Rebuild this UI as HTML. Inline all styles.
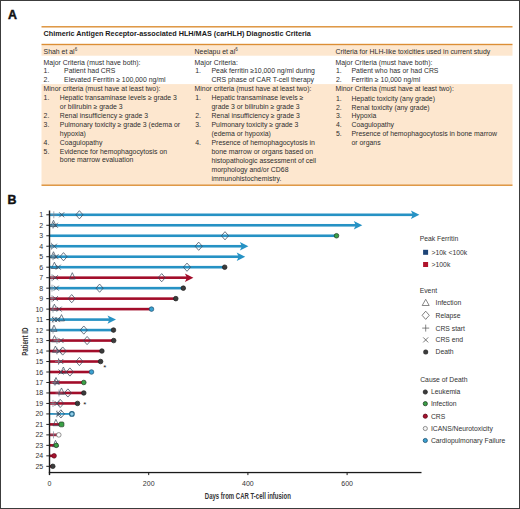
<!DOCTYPE html>
<html><head><meta charset="utf-8"><title>carHLH</title>
<style>
html,body{margin:0;padding:0;background:#fff;}
#wrap{position:relative;width:520px;height:509px;overflow:hidden;background:#fff;}
#frame{position:absolute;left:0;top:0;width:520px;height:509px;box-sizing:border-box;border:1px solid #3c3c3c;}
svg{position:absolute;left:0;top:0;}
text{font-family:"Liberation Sans", sans-serif;}

</style></head>
<body><div id="wrap">
<svg width="520" height="509" viewBox="0 0 520 509">
<rect x="41.5" y="45.2" width="471" height="10.5" fill="#fde7cf"/>
<rect x="41.5" y="84.1" width="471" height="100.7" fill="#fde7cf"/>
<rect x="41.5" y="26.1" width="471" height="1.4" fill="#dc8e34"/>
<rect x="41.5" y="43.8" width="471" height="1.4" fill="#dc8e34"/>
<rect x="41.5" y="184.5" width="471" height="1.4" fill="#dc8e34"/>
<g class="tb">
<text x="43.6" y="36.21" font-size="7.25" font-weight="bold" fill="#1a1a1a" text-anchor="start">Chimeric Antigen Receptor-associated HLH/MAS (carHLH) Diagnostic Criteria</text>
<text x="43.6" y="53.88" font-size="6.9" font-weight="normal" fill="#2e2e2e" text-anchor="start">Shah et al<tspan font-size="4.5" dy="-2.6">6</tspan></text>
<text x="194.6" y="53.88" font-size="6.9" font-weight="normal" fill="#2e2e2e" text-anchor="start">Neelapu et al<tspan font-size="4.5" dy="-2.6">6</tspan></text>
<text x="335.5" y="53.88" font-size="6.9" font-weight="normal" fill="#2e2e2e" text-anchor="start">Criteria for HLH-like toxicities used in current study</text>
<text x="43.6" y="64.68" font-size="6.9" font-weight="normal" fill="#2e2e2e" text-anchor="start">Major Criteria (must have both):</text>
<text x="43.6" y="73.18" font-size="6.9" font-weight="normal" fill="#2e2e2e" text-anchor="start">1.</text>
<text x="64.1" y="73.18" font-size="6.9" font-weight="normal" fill="#2e2e2e" text-anchor="start">Patient had CRS</text>
<text x="43.6" y="82.08" font-size="6.9" font-weight="normal" fill="#2e2e2e" text-anchor="start">2.</text>
<text x="64.1" y="82.08" font-size="6.9" font-weight="normal" fill="#2e2e2e" text-anchor="start">Elevated Ferritin ≥ 100,000 ng/ml</text>
<text x="43.6" y="91.48" font-size="6.9" font-weight="normal" fill="#2e2e2e" text-anchor="start">Minor criteria (must have at least two):</text>
<text x="43.6" y="100.48" font-size="6.9" font-weight="normal" fill="#2e2e2e" text-anchor="start">1.</text>
<text x="59.8" y="100.48" font-size="6.9" font-weight="normal" fill="#2e2e2e" text-anchor="start">Hepatic transaminase levels ≥ grade 3</text>
<text x="59.8" y="109.33" font-size="6.9" font-weight="normal" fill="#2e2e2e" text-anchor="start">or bilirubin ≥ grade 3</text>
<text x="43.6" y="118.18" font-size="6.9" font-weight="normal" fill="#2e2e2e" text-anchor="start">2.</text>
<text x="59.8" y="118.18" font-size="6.9" font-weight="normal" fill="#2e2e2e" text-anchor="start">Renal insufficiency ≥ grade 3</text>
<text x="43.6" y="127.03" font-size="6.9" font-weight="normal" fill="#2e2e2e" text-anchor="start">3.</text>
<text x="59.8" y="127.03" font-size="6.9" font-weight="normal" fill="#2e2e2e" text-anchor="start">Pulmonary toxicity ≥ grade 3 (edema or</text>
<text x="59.8" y="135.88" font-size="6.9" font-weight="normal" fill="#2e2e2e" text-anchor="start">hypoxia)</text>
<text x="43.6" y="144.73" font-size="6.9" font-weight="normal" fill="#2e2e2e" text-anchor="start">4.</text>
<text x="59.8" y="144.73" font-size="6.9" font-weight="normal" fill="#2e2e2e" text-anchor="start">Coagulopathy</text>
<text x="43.6" y="153.58" font-size="6.9" font-weight="normal" fill="#2e2e2e" text-anchor="start">5.</text>
<text x="59.8" y="153.58" font-size="6.9" font-weight="normal" fill="#2e2e2e" text-anchor="start">Evidence for hemophagocytosis on</text>
<text x="59.8" y="162.43" font-size="6.9" font-weight="normal" fill="#2e2e2e" text-anchor="start">bone marrow evaluation</text>
<text x="194.6" y="64.68" font-size="6.9" font-weight="normal" fill="#2e2e2e" text-anchor="start">Major Criteria:</text>
<text x="195.2" y="73.18" font-size="6.9" font-weight="normal" fill="#2e2e2e" text-anchor="start">1.</text>
<text x="211.5" y="73.18" font-size="6.9" font-weight="normal" fill="#2e2e2e" text-anchor="start">Peak ferritin ≥10,000 ng/ml during</text>
<text x="211.5" y="82.08" font-size="6.9" font-weight="normal" fill="#2e2e2e" text-anchor="start">CRS phase of CAR T-cell therapy</text>
<text x="194.6" y="91.48" font-size="6.9" font-weight="normal" fill="#2e2e2e" text-anchor="start">Minor criteria (must have at least two):</text>
<text x="195.2" y="100.48" font-size="6.9" font-weight="normal" fill="#2e2e2e" text-anchor="start">1.</text>
<text x="211.5" y="100.48" font-size="6.9" font-weight="normal" fill="#2e2e2e" text-anchor="start">Hepatic transaminase levels ≥</text>
<text x="211.5" y="109.28" font-size="6.9" font-weight="normal" fill="#2e2e2e" text-anchor="start">grade 3 or bilirubin ≥ grade 3</text>
<text x="195.2" y="118.08" font-size="6.9" font-weight="normal" fill="#2e2e2e" text-anchor="start">2.</text>
<text x="211.5" y="118.08" font-size="6.9" font-weight="normal" fill="#2e2e2e" text-anchor="start">Renal insufficiency ≥ grade 3</text>
<text x="195.2" y="126.78" font-size="6.9" font-weight="normal" fill="#2e2e2e" text-anchor="start">3.</text>
<text x="211.5" y="126.78" font-size="6.9" font-weight="normal" fill="#2e2e2e" text-anchor="start">Pulmonary toxicity ≥ grade 3</text>
<text x="211.5" y="135.58" font-size="6.9" font-weight="normal" fill="#2e2e2e" text-anchor="start">(edema or hypoxia)</text>
<text x="195.2" y="144.78" font-size="6.9" font-weight="normal" fill="#2e2e2e" text-anchor="start">4.</text>
<text x="211.5" y="144.78" font-size="6.9" font-weight="normal" fill="#2e2e2e" text-anchor="start">Presence of hemophagocytosis in</text>
<text x="211.5" y="153.88" font-size="6.9" font-weight="normal" fill="#2e2e2e" text-anchor="start">bone marrow or organs based on</text>
<text x="211.5" y="162.88" font-size="6.9" font-weight="normal" fill="#2e2e2e" text-anchor="start">histopathologic assessment of cell</text>
<text x="211.5" y="171.98" font-size="6.9" font-weight="normal" fill="#2e2e2e" text-anchor="start">morphology and/or CD68</text>
<text x="211.5" y="180.98" font-size="6.9" font-weight="normal" fill="#2e2e2e" text-anchor="start">immunohistochemistry.</text>
<text x="335.5" y="64.68" font-size="6.9" font-weight="normal" fill="#2e2e2e" text-anchor="start">Major Criteria (must have both):</text>
<text x="336.0" y="73.18" font-size="6.9" font-weight="normal" fill="#2e2e2e" text-anchor="start">1.</text>
<text x="351.5" y="73.18" font-size="6.9" font-weight="normal" fill="#2e2e2e" text-anchor="start">Patient who has or had CRS</text>
<text x="336.0" y="82.08" font-size="6.9" font-weight="normal" fill="#2e2e2e" text-anchor="start">2.</text>
<text x="351.5" y="82.08" font-size="6.9" font-weight="normal" fill="#2e2e2e" text-anchor="start">Ferritin ≥ 10,000 ng/ml</text>
<text x="335.5" y="91.48" font-size="6.9" font-weight="normal" fill="#2e2e2e" text-anchor="start">Minor Criteria (must have at least two):</text>
<text x="336.0" y="100.68" font-size="6.9" font-weight="normal" fill="#2e2e2e" text-anchor="start">1.</text>
<text x="351.5" y="100.68" font-size="6.9" font-weight="normal" fill="#2e2e2e" text-anchor="start">Hepatic toxicity (any grade)</text>
<text x="336.0" y="109.53" font-size="6.9" font-weight="normal" fill="#2e2e2e" text-anchor="start">2.</text>
<text x="351.5" y="109.53" font-size="6.9" font-weight="normal" fill="#2e2e2e" text-anchor="start">Renal toxicity (any grade)</text>
<text x="336.0" y="118.38" font-size="6.9" font-weight="normal" fill="#2e2e2e" text-anchor="start">3.</text>
<text x="351.5" y="118.38" font-size="6.9" font-weight="normal" fill="#2e2e2e" text-anchor="start">Hypoxia</text>
<text x="336.0" y="127.23" font-size="6.9" font-weight="normal" fill="#2e2e2e" text-anchor="start">4.</text>
<text x="351.5" y="127.23" font-size="6.9" font-weight="normal" fill="#2e2e2e" text-anchor="start">Coagulopathy</text>
<text x="336.0" y="136.08" font-size="6.9" font-weight="normal" fill="#2e2e2e" text-anchor="start">5.</text>
<text x="351.5" y="136.08" font-size="6.9" font-weight="normal" fill="#2e2e2e" text-anchor="start">Presence of hemophagocytosis in bone marrow</text>
<text x="351.5" y="144.93" font-size="6.9" font-weight="normal" fill="#2e2e2e" text-anchor="start">or organs</text>
</g>
<text x="7.9" y="18.6" font-size="12.4" font-weight="bold" fill="#111" stroke="#111" stroke-width="0.45">A</text>
<text x="7.6" y="203.9" font-size="12.4" font-weight="bold" fill="#111" stroke="#111" stroke-width="0.45">B</text>
<rect x="46.3" y="214.30" width="3.4" height="1" fill="#222"/>
<text x="43.2" y="217.30" font-size="7" fill="#333" text-anchor="end">1</text>
<rect x="49.5" y="213.50" width="363.90" height="2.6" fill="#2692c4"/>
<path d="M419.40 214.80 L410.90 210.60 L412.90 214.80 L410.90 219.00Z" fill="#2692c4"/>
<path d="M53.80 211.30 V218.30 M50.30 214.80 H57.30" stroke="#7d8896" stroke-width="0.7" fill="none"/>
<path d="M59.20 212.30 L64.20 217.30 M59.20 217.30 L64.20 212.30" stroke="#3a4a5c" stroke-width="0.8" fill="none"/>
<path d="M79.40 210.70 L83.00 214.80 L79.40 218.90 L75.80 214.80Z" fill="none" stroke="#3a4a5c" stroke-width="0.75"/>
<rect x="46.3" y="224.78" width="3.4" height="1" fill="#222"/>
<text x="43.2" y="227.78" font-size="7" fill="#333" text-anchor="end">2</text>
<rect x="49.5" y="223.98" width="306.80" height="2.6" fill="#2692c4"/>
<path d="M362.30 225.28 L353.80 221.08 L355.80 225.28 L353.80 229.48Z" fill="#2692c4"/>
<path d="M53.50 220.28 L56.50 226.58 L50.50 226.58Z" fill="none" stroke="#3a4a5c" stroke-width="0.7"/>
<path d="M53.00 221.78 V228.78 M49.50 225.28 H56.50" stroke="#7d8896" stroke-width="0.7" fill="none"/>
<path d="M52.90 222.78 L57.90 227.78 M52.90 227.78 L57.90 222.78" stroke="#3a4a5c" stroke-width="0.8" fill="none"/>
<rect x="46.3" y="235.26" width="3.4" height="1" fill="#222"/>
<text x="43.2" y="238.26" font-size="7" fill="#333" text-anchor="end">3</text>
<rect x="49.5" y="234.46" width="287.00" height="2.6" fill="#2692c4"/>
<path d="M225.00 231.66 L228.60 235.76 L225.00 239.86 L221.40 235.76Z" fill="none" stroke="#3a4a5c" stroke-width="0.75"/>
<circle cx="336.50" cy="235.76" r="2.3" fill="#3aa146" stroke="#1f3a22" stroke-width="0.7"/>
<rect x="46.3" y="245.74" width="3.4" height="1" fill="#222"/>
<text x="43.2" y="248.74" font-size="7" fill="#333" text-anchor="end">4</text>
<rect x="49.5" y="244.94" width="192.90" height="2.6" fill="#2692c4"/>
<path d="M248.40 246.24 L239.90 242.04 L241.90 246.24 L239.90 250.44Z" fill="#2692c4"/>
<path d="M51.50 242.74 V249.74 M48.00 246.24 H55.00" stroke="#7d8896" stroke-width="0.7" fill="none"/>
<path d="M51.90 243.74 L56.90 248.74 M51.90 248.74 L56.90 243.74" stroke="#3a4a5c" stroke-width="0.8" fill="none"/>
<path d="M198.70 242.14 L202.30 246.24 L198.70 250.34 L195.10 246.24Z" fill="none" stroke="#3a4a5c" stroke-width="0.75"/>
<rect x="46.3" y="256.22" width="3.4" height="1" fill="#222"/>
<text x="43.2" y="259.22" font-size="7" fill="#333" text-anchor="end">5</text>
<rect x="49.5" y="255.42" width="189.70" height="2.6" fill="#2692c4"/>
<path d="M245.20 256.72 L236.70 252.52 L238.70 256.72 L236.70 260.92Z" fill="#2692c4"/>
<path d="M53.50 251.72 L56.50 258.02 L50.50 258.02Z" fill="none" stroke="#3a4a5c" stroke-width="0.7"/>
<path d="M53.00 253.22 V260.22 M49.50 256.72 H56.50" stroke="#7d8896" stroke-width="0.7" fill="none"/>
<path d="M53.50 254.22 L58.50 259.22 M53.50 259.22 L58.50 254.22" stroke="#3a4a5c" stroke-width="0.8" fill="none"/>
<path d="M63.50 252.62 L67.10 256.72 L63.50 260.82 L59.90 256.72Z" fill="none" stroke="#3a4a5c" stroke-width="0.75"/>
<rect x="46.3" y="266.70" width="3.4" height="1" fill="#222"/>
<text x="43.2" y="269.70" font-size="7" fill="#333" text-anchor="end">6</text>
<rect x="49.5" y="265.90" width="175.20" height="2.6" fill="#2692c4"/>
<path d="M54.40 262.20 L57.40 268.50 L51.40 268.50Z" fill="none" stroke="#3a4a5c" stroke-width="0.7"/>
<path d="M55.80 264.70 L60.80 269.70 M55.80 269.70 L60.80 264.70" stroke="#3a4a5c" stroke-width="0.8" fill="none"/>
<path d="M187.00 263.10 L190.60 267.20 L187.00 271.30 L183.40 267.20Z" fill="none" stroke="#3a4a5c" stroke-width="0.75"/>
<circle cx="224.70" cy="267.20" r="2.3" fill="#3b3b3b" stroke="#1e1e1e" stroke-width="0.7"/>
<rect x="46.3" y="277.18" width="3.4" height="1" fill="#222"/>
<text x="43.2" y="280.18" font-size="7" fill="#333" text-anchor="end">7</text>
<rect x="49.5" y="276.38" width="137.90" height="2.6" fill="#a20d2a"/>
<path d="M193.40 277.68 L184.90 273.48 L186.90 277.68 L184.90 281.88Z" fill="#a20d2a"/>
<path d="M52.00 274.18 V281.18 M48.50 277.68 H55.50" stroke="#7d8896" stroke-width="0.7" fill="none"/>
<path d="M52.90 275.18 L57.90 280.18 M52.90 280.18 L57.90 275.18" stroke="#3a4a5c" stroke-width="0.8" fill="none"/>
<path d="M72.30 272.68 L75.30 278.98 L69.30 278.98Z" fill="none" stroke="#3a4a5c" stroke-width="0.7"/>
<path d="M161.70 273.58 L165.30 277.68 L161.70 281.78 L158.10 277.68Z" fill="none" stroke="#3a4a5c" stroke-width="0.75"/>
<rect x="46.3" y="287.66" width="3.4" height="1" fill="#222"/>
<text x="43.2" y="290.66" font-size="7" fill="#333" text-anchor="end">8</text>
<rect x="49.5" y="286.86" width="133.80" height="2.6" fill="#2692c4"/>
<path d="M52.00 284.66 V291.66 M48.50 288.16 H55.50" stroke="#7d8896" stroke-width="0.7" fill="none"/>
<path d="M53.80 285.66 L58.80 290.66 M53.80 290.66 L58.80 285.66" stroke="#3a4a5c" stroke-width="0.8" fill="none"/>
<path d="M99.60 284.06 L103.20 288.16 L99.60 292.26 L96.00 288.16Z" fill="none" stroke="#3a4a5c" stroke-width="0.75"/>
<circle cx="183.30" cy="288.16" r="2.3" fill="#3b3b3b" stroke="#1e1e1e" stroke-width="0.7"/>
<rect x="46.3" y="298.14" width="3.4" height="1" fill="#222"/>
<text x="43.2" y="301.14" font-size="7" fill="#333" text-anchor="end">9</text>
<rect x="49.5" y="297.34" width="126.30" height="2.6" fill="#a20d2a"/>
<path d="M52.00 295.14 V302.14 M48.50 298.64 H55.50" stroke="#7d8896" stroke-width="0.7" fill="none"/>
<path d="M52.90 296.14 L57.90 301.14 M52.90 301.14 L57.90 296.14" stroke="#3a4a5c" stroke-width="0.8" fill="none"/>
<path d="M71.70 294.54 L75.30 298.64 L71.70 302.74 L68.10 298.64Z" fill="none" stroke="#3a4a5c" stroke-width="0.75"/>
<circle cx="175.80" cy="298.64" r="2.3" fill="#3b3b3b" stroke="#1e1e1e" stroke-width="0.7"/>
<rect x="46.3" y="308.62" width="3.4" height="1" fill="#222"/>
<text x="43.2" y="311.62" font-size="7" fill="#333" text-anchor="end">10</text>
<rect x="49.5" y="307.82" width="102.00" height="2.6" fill="#a20d2a"/>
<path d="M54.40 304.12 L57.40 310.42 L51.40 310.42Z" fill="none" stroke="#3a4a5c" stroke-width="0.7"/>
<path d="M53.00 305.62 V312.62 M49.50 309.12 H56.50" stroke="#7d8896" stroke-width="0.7" fill="none"/>
<path d="M56.70 306.62 L61.70 311.62 M56.70 311.62 L61.70 306.62" stroke="#3a4a5c" stroke-width="0.8" fill="none"/>
<circle cx="151.50" cy="309.12" r="2.3" fill="#3aa0d0" stroke="#1d4f6e" stroke-width="0.7"/>
<rect x="46.3" y="319.10" width="3.4" height="1" fill="#222"/>
<text x="43.2" y="322.10" font-size="7" fill="#333" text-anchor="end">11</text>
<rect x="49.5" y="318.30" width="60.50" height="2.6" fill="#2692c4"/>
<path d="M116.00 319.60 L107.50 315.40 L109.50 319.60 L107.50 323.80Z" fill="#2692c4"/>
<path d="M53.00 316.10 V323.10 M49.50 319.60 H56.50" stroke="#7d8896" stroke-width="0.7" fill="none"/>
<path d="M52.10 317.10 L57.10 322.10 M52.10 322.10 L57.10 317.10" stroke="#3a4a5c" stroke-width="0.8" fill="none"/>
<path d="M54.80 317.10 L59.80 322.10 M54.80 322.10 L59.80 317.10" stroke="#3a4a5c" stroke-width="0.8" fill="none"/>
<path d="M61.50 314.60 L64.50 320.90 L58.50 320.90Z" fill="none" stroke="#3a4a5c" stroke-width="0.7"/>
<rect x="46.3" y="329.58" width="3.4" height="1" fill="#222"/>
<text x="43.2" y="332.58" font-size="7" fill="#333" text-anchor="end">12</text>
<rect x="49.5" y="328.78" width="64.00" height="2.6" fill="#2692c4"/>
<path d="M54.00 325.08 L57.00 331.38 L51.00 331.38Z" fill="none" stroke="#3a4a5c" stroke-width="0.7"/>
<path d="M53.00 326.58 V333.58 M49.50 330.08 H56.50" stroke="#7d8896" stroke-width="0.7" fill="none"/>
<path d="M83.80 325.98 L87.40 330.08 L83.80 334.18 L80.20 330.08Z" fill="none" stroke="#3a4a5c" stroke-width="0.75"/>
<circle cx="113.50" cy="330.08" r="2.3" fill="#3b3b3b" stroke="#1e1e1e" stroke-width="0.7"/>
<rect x="46.3" y="340.06" width="3.4" height="1" fill="#222"/>
<text x="43.2" y="343.06" font-size="7" fill="#333" text-anchor="end">13</text>
<rect x="49.5" y="339.26" width="64.20" height="2.6" fill="#a20d2a"/>
<path d="M54.50 335.56 L57.50 341.86 L51.50 341.86Z" fill="none" stroke="#3a4a5c" stroke-width="0.7"/>
<path d="M57.00 337.06 V344.06 M53.50 340.56 H60.50" stroke="#7d8896" stroke-width="0.7" fill="none"/>
<path d="M58.50 338.06 L63.50 343.06 M58.50 343.06 L63.50 338.06" stroke="#3a4a5c" stroke-width="0.8" fill="none"/>
<path d="M87.10 336.46 L90.70 340.56 L87.10 344.66 L83.50 340.56Z" fill="none" stroke="#3a4a5c" stroke-width="0.75"/>
<circle cx="113.70" cy="340.56" r="2.3" fill="#3b3b3b" stroke="#1e1e1e" stroke-width="0.7"/>
<rect x="46.3" y="350.54" width="3.4" height="1" fill="#222"/>
<text x="43.2" y="353.54" font-size="7" fill="#333" text-anchor="end">14</text>
<rect x="49.5" y="349.74" width="52.40" height="2.6" fill="#a20d2a"/>
<path d="M55.40 346.04 L58.40 352.34 L52.40 352.34Z" fill="none" stroke="#3a4a5c" stroke-width="0.7"/>
<path d="M57.00 347.54 V354.54 M53.50 351.04 H60.50" stroke="#7d8896" stroke-width="0.7" fill="none"/>
<path d="M56.70 348.54 L61.70 353.54 M56.70 353.54 L61.70 348.54" stroke="#3a4a5c" stroke-width="0.8" fill="none"/>
<path d="M62.70 346.94 L66.30 351.04 L62.70 355.14 L59.10 351.04Z" fill="none" stroke="#3a4a5c" stroke-width="0.75"/>
<circle cx="101.90" cy="351.04" r="2.3" fill="#3b3b3b" stroke="#1e1e1e" stroke-width="0.7"/>
<rect x="46.3" y="361.02" width="3.4" height="1" fill="#222"/>
<text x="43.2" y="364.02" font-size="7" fill="#333" text-anchor="end">15</text>
<rect x="49.5" y="360.22" width="51.10" height="2.6" fill="#a20d2a"/>
<path d="M58.50 358.02 V365.02 M55.00 361.52 H62.00" stroke="#7d8896" stroke-width="0.7" fill="none"/>
<path d="M58.30 359.02 L63.30 364.02 M58.30 364.02 L63.30 359.02" stroke="#3a4a5c" stroke-width="0.8" fill="none"/>
<path d="M79.40 357.42 L83.00 361.52 L79.40 365.62 L75.80 361.52Z" fill="none" stroke="#3a4a5c" stroke-width="0.75"/>
<circle cx="100.60" cy="361.52" r="2.3" fill="#3b3b3b" stroke="#1e1e1e" stroke-width="0.7"/>
<rect x="46.3" y="371.50" width="3.4" height="1" fill="#222"/>
<text x="43.2" y="374.50" font-size="7" fill="#333" text-anchor="end">16</text>
<rect x="49.5" y="370.70" width="42.00" height="2.6" fill="#a20d2a"/>
<path d="M58.50 369.50 L63.50 374.50 M58.50 374.50 L63.50 369.50" stroke="#3a4a5c" stroke-width="0.8" fill="none"/>
<path d="M63.40 367.00 L66.40 373.30 L60.40 373.30Z" fill="none" stroke="#3a4a5c" stroke-width="0.7"/>
<path d="M69.90 367.90 L73.50 372.00 L69.90 376.10 L66.30 372.00Z" fill="none" stroke="#3a4a5c" stroke-width="0.75"/>
<circle cx="91.50" cy="372.00" r="2.3" fill="#3aa0d0" stroke="#1d4f6e" stroke-width="0.7"/>
<rect x="46.3" y="381.98" width="3.4" height="1" fill="#222"/>
<text x="43.2" y="384.98" font-size="7" fill="#333" text-anchor="end">17</text>
<rect x="49.5" y="381.18" width="34.30" height="2.6" fill="#a20d2a"/>
<path d="M56.00 377.48 L59.00 383.78 L53.00 383.78Z" fill="none" stroke="#3a4a5c" stroke-width="0.7"/>
<path d="M55.00 378.98 V385.98 M51.50 382.48 H58.50" stroke="#7d8896" stroke-width="0.7" fill="none"/>
<path d="M54.50 379.98 L59.50 384.98 M54.50 384.98 L59.50 379.98" stroke="#3a4a5c" stroke-width="0.8" fill="none"/>
<circle cx="83.80" cy="382.48" r="2.3" fill="#3aa146" stroke="#1f3a22" stroke-width="0.7"/>
<rect x="46.3" y="392.46" width="3.4" height="1" fill="#222"/>
<text x="43.2" y="395.46" font-size="7" fill="#333" text-anchor="end">18</text>
<rect x="49.5" y="391.66" width="34.30" height="2.6" fill="#a20d2a"/>
<path d="M59.00 389.46 V396.46 M55.50 392.96 H62.50" stroke="#7d8896" stroke-width="0.7" fill="none"/>
<path d="M61.50 387.96 L64.50 394.26 L58.50 394.26Z" fill="none" stroke="#3a4a5c" stroke-width="0.7"/>
<path d="M67.90 388.86 L71.50 392.96 L67.90 397.06 L64.30 392.96Z" fill="none" stroke="#3a4a5c" stroke-width="0.75"/>
<circle cx="83.80" cy="392.96" r="2.3" fill="#3b3b3b" stroke="#1e1e1e" stroke-width="0.7"/>
<rect x="46.3" y="402.94" width="3.4" height="1" fill="#222"/>
<text x="43.2" y="405.94" font-size="7" fill="#333" text-anchor="end">19</text>
<rect x="49.5" y="402.14" width="28.00" height="2.6" fill="#a20d2a"/>
<path d="M53.00 399.94 V406.94 M49.50 403.44 H56.50" stroke="#7d8896" stroke-width="0.7" fill="none"/>
<path d="M54.50 400.94 L59.50 405.94 M54.50 405.94 L59.50 400.94" stroke="#3a4a5c" stroke-width="0.8" fill="none"/>
<path d="M60.20 399.34 L63.80 403.44 L60.20 407.54 L56.60 403.44Z" fill="none" stroke="#3a4a5c" stroke-width="0.75"/>
<circle cx="77.50" cy="403.44" r="2.3" fill="#3b3b3b" stroke="#1e1e1e" stroke-width="0.7"/>
<rect x="46.3" y="413.42" width="3.4" height="1" fill="#222"/>
<text x="43.2" y="416.42" font-size="7" fill="#333" text-anchor="end">20</text>
<rect x="49.5" y="413.02" width="22.40" height="1.8" fill="#2692c4"/>
<path d="M57.00 410.42 V417.42 M53.50 413.92 H60.50" stroke="#7d8896" stroke-width="0.7" fill="none"/>
<path d="M56.50 411.42 L61.50 416.42 M56.50 416.42 L61.50 411.42" stroke="#3a4a5c" stroke-width="0.8" fill="none"/>
<path d="M60.90 409.82 L64.50 413.92 L60.90 418.02 L57.30 413.92Z" fill="none" stroke="#3a4a5c" stroke-width="0.75"/>
<circle cx="71.90" cy="413.92" r="2.3" fill="#8fcfea" stroke="#1d5f80" stroke-width="1.1"/>
<rect x="46.3" y="423.90" width="3.4" height="1" fill="#222"/>
<text x="43.2" y="426.90" font-size="7" fill="#333" text-anchor="end">21</text>
<rect x="49.5" y="423.10" width="12.00" height="2.6" fill="#a20d2a"/>
<path d="M55.90 419.40 L58.90 425.70 L52.90 425.70Z" fill="none" stroke="#3a4a5c" stroke-width="0.7"/>
<rect x="59.10" y="422.00" width="4.8" height="4.8" rx="1.2" fill="#3aa146" stroke="#1f3a22" stroke-width="0.7"/>
<rect x="46.3" y="434.38" width="3.4" height="1" fill="#222"/>
<text x="43.2" y="437.38" font-size="7" fill="#333" text-anchor="end">22</text>
<rect x="49.5" y="433.58" width="9.30" height="2.6" fill="#a20d2a"/>
<path d="M53.50 431.38 V438.38 M50.00 434.88 H57.00" stroke="#7d8896" stroke-width="0.7" fill="none"/>
<circle cx="58.80" cy="434.88" r="2.3" fill="#ffffff" stroke="#666666" stroke-width="0.7"/>
<rect x="46.3" y="444.86" width="3.4" height="1" fill="#222"/>
<text x="43.2" y="447.86" font-size="7" fill="#333" text-anchor="end">23</text>
<rect x="49.5" y="444.06" width="6.70" height="2.6" fill="#a20d2a"/>
<path d="M55.50 440.36 L58.50 446.66 L52.50 446.66Z" fill="none" stroke="#3a4a5c" stroke-width="0.7"/>
<circle cx="56.20" cy="445.36" r="2.3" fill="#3aa146" stroke="#1f3a22" stroke-width="0.7"/>
<rect x="46.3" y="455.34" width="3.4" height="1" fill="#222"/>
<text x="43.2" y="458.34" font-size="7" fill="#333" text-anchor="end">24</text>
<rect x="49.5" y="454.54" width="4.60" height="2.6" fill="#a20d2a"/>
<circle cx="54.10" cy="455.84" r="2.3" fill="#a8102e" stroke="#5a0a18" stroke-width="0.7"/>
<rect x="46.3" y="465.82" width="3.4" height="1" fill="#222"/>
<text x="43.2" y="468.82" font-size="7" fill="#333" text-anchor="end">25</text>
<rect x="49.5" y="465.02" width="3.30" height="2.6" fill="#a20d2a"/>
<circle cx="52.80" cy="466.32" r="2.3" fill="#3b3b3b" stroke="#1e1e1e" stroke-width="0.7"/>
<text x="104.8" y="370.3" font-size="8" fill="#222" text-anchor="middle">*</text>
<text x="84.8" y="406.6" font-size="8" fill="#222" text-anchor="middle">*</text>
<rect x="48.8" y="210.5" width="1.4" height="264.5" fill="#1a1a1a"/>
<rect x="48.8" y="471.9" width="372.7" height="1.3" fill="#1a1a1a"/>
<rect x="49.00" y="472.5" width="1" height="2.6" fill="#1a1a1a"/>
<text x="49.50" y="485.8" font-size="7" fill="#333" text-anchor="middle">0</text>
<rect x="148.20" y="472.5" width="1" height="2.6" fill="#1a1a1a"/>
<text x="148.70" y="485.8" font-size="7" fill="#333" text-anchor="middle">200</text>
<rect x="247.40" y="472.5" width="1" height="2.6" fill="#1a1a1a"/>
<text x="247.90" y="485.8" font-size="7" fill="#333" text-anchor="middle">400</text>
<rect x="346.60" y="472.5" width="1" height="2.6" fill="#1a1a1a"/>
<text x="347.10" y="485.8" font-size="7" fill="#333" text-anchor="middle">600</text>
<text transform="translate(247.8 498.8) scale(0.69 1)" font-size="8.7" font-weight="bold" fill="#333" text-anchor="middle">Days from CAR T-cell infusion</text>
<text transform="translate(28.2 341.7) rotate(-90) scale(0.71 1)" font-size="8.6" font-weight="bold" fill="#333" text-anchor="middle">Patient ID</text>
<text x="419.7" y="241.45" font-size="6.8" fill="#333">Peak Ferritin</text>
<rect x="423.1" y="249.8" width="5" height="5" fill="#1d4477"/>
<text x="431.6" y="254.85" font-size="6.8" fill="#333">&gt;10k &lt;100k</text>
<rect x="423.1" y="262.0" width="5" height="5" fill="#b0142c"/>
<text x="431.6" y="266.95" font-size="6.8" fill="#333">&gt;100k</text>
<text x="419.7" y="292.75" font-size="6.8" fill="#333">Event</text>
<path d="M425.7 299.3 L429.2 305.5 L422.2 305.5Z" fill="none" stroke="#555" stroke-width="0.7"/>
<text x="435.5" y="304.65" font-size="6.8" fill="#333">Infection</text>
<path d="M425.70 311.20 L429.30 315.30 L425.70 319.40 L422.10 315.30Z" fill="none" stroke="#555" stroke-width="0.75"/>
<text x="435.5" y="317.75" font-size="6.8" fill="#333">Relapse</text>
<path d="M425.70 324.60 V331.60 M422.20 328.10 H429.20" stroke="#555" stroke-width="0.7" fill="none"/>
<text x="435.5" y="330.55" font-size="6.8" fill="#333">CRS start</text>
<path d="M423.20 337.40 L428.20 342.40 M423.20 342.40 L428.20 337.40" stroke="#555" stroke-width="0.8" fill="none"/>
<text x="435.5" y="342.35" font-size="6.8" fill="#333">CRS end</text>
<circle cx="425.7" cy="351.9" r="2.5" fill="#3b3b3b"/>
<text x="435.5" y="354.35" font-size="6.8" fill="#333">Death</text>
<text x="420.2" y="381.65" font-size="6.8" fill="#333">Cause of Death</text>
<circle cx="425.3" cy="392.0" r="2.1" fill="#3b3b3b" stroke="#1e1e1e" stroke-width="0.8"/>
<text x="430.9" y="394.45" font-size="6.8" fill="#333">Leukemia</text>
<circle cx="425.3" cy="403.7" r="2.1" fill="#3aa146" stroke="#1f3a22" stroke-width="0.8"/>
<text x="430.9" y="406.15" font-size="6.8" fill="#333">Infection</text>
<circle cx="425.3" cy="416.2" r="2.1" fill="#a8102e" stroke="#5a0a18" stroke-width="0.8"/>
<text x="430.9" y="418.65" font-size="6.8" fill="#333">CRS</text>
<circle cx="425.3" cy="428.5" r="2.1" fill="#f4f4f4" stroke="#777" stroke-width="0.8"/>
<text x="430.9" y="430.95" font-size="6.8" fill="#333">ICANS/Neurotoxicity</text>
<circle cx="425.3" cy="440.5" r="2.1" fill="#3aa0d0" stroke="#1d4f6e" stroke-width="0.8"/>
<text x="430.9" y="442.95" font-size="6.8" fill="#333">Cardiopulmonary Failure</text>
</svg>
<div id="frame"></div>
</div></body></html>
